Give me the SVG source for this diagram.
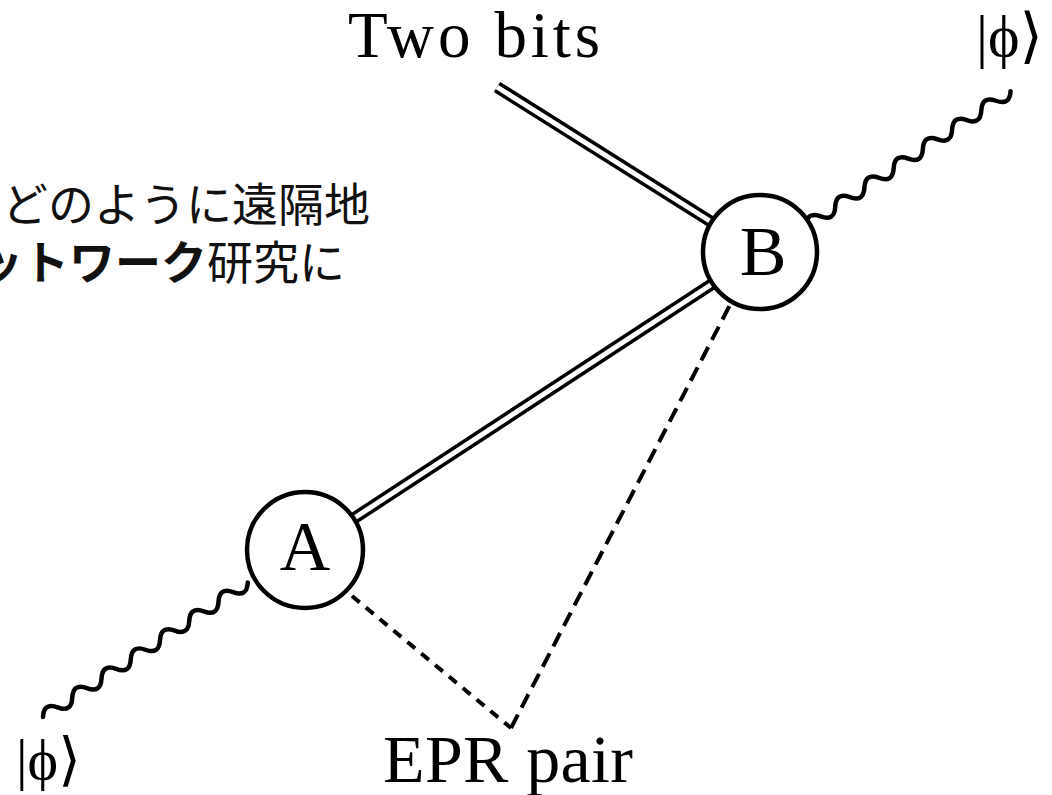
<svg xmlns="http://www.w3.org/2000/svg" width="1052" height="795" viewBox="0 0 1052 795">
<style>
.serif{font-family:"Liberation Serif","DejaVu Serif",serif;fill:#000}
.jp{font-family:"Noto Sans CJK JP","Noto Sans CJK SC",sans-serif;fill:#111;font-size:46px}
.rail-o{stroke:#000;stroke-width:12;fill:none}
.rail-i{stroke:#fff;stroke-width:5;fill:none}
.wave{stroke:#000;stroke-width:4.5;fill:none;stroke-linecap:round}
.node{fill:#fff;stroke:#000;stroke-width:4.5}
.dash{stroke:#000;stroke-width:4;fill:none}
</style>
<rect width="1052" height="795" fill="#fff"/>
<g id="caption">
<text class="jp" x="2" y="221">どのように遠隔地</text>
<text class="jp" x="-23" y="279"><tspan font-weight="700">ットワーク</tspan>研究に</text>
</g>
<g id="connectors">
<line class="rail-o" x1="330" y1="534" x2="735" y2="269"/>
<line class="rail-i" x1="330" y1="534" x2="735" y2="269"/>
<line class="rail-o" x1="497" y1="87" x2="740" y2="240"/>
<line class="rail-i" x1="497" y1="87" x2="740" y2="240"/>
<path class="wave" transform="translate(806,226) rotate(-33.4)" d="M0,0 q8.75,-12 17.5,0 t17.5,0 t17.5,0 t17.5,0 t17.5,0 t17.5,0 t17.5,0 t17.5,0 t17.5,0 t17.5,0 t17.5,0 t17.5,0 t17.5,0 t17.5,0"/>
<path class="wave" transform="translate(43,717) rotate(-33.3)" d="M0,0 q8.75,-12 17.5,0 t17.5,0 t17.5,0 t17.5,0 t17.5,0 t17.5,0 t17.5,0 t17.5,0 t17.5,0 t17.5,0 t17.5,0 t17.5,0 t17.5,0 t17.5,0"/>
<line class="dash" x1="352" y1="596" x2="511" y2="728" stroke-dasharray="10 8"/>
<line class="dash" x1="511" y1="728" x2="731" y2="303" stroke-dasharray="15 8"/>
</g>
<g id="node-B">
<circle class="node" cx="760" cy="252" r="57"/>
<text class="serif" x="763" y="275" font-size="70" text-anchor="middle">B</text>
</g>
<g id="node-A">
<circle class="node" cx="305" cy="550" r="58"/>
<text class="serif" x="305" y="570" font-size="70" text-anchor="middle">A</text>
</g>
<g id="labels">
<text class="serif" x="348" y="57" font-size="65" textLength="252">Two bits</text>
<text class="serif" x="383" y="782" font-size="68" textLength="250">EPR pair</text>
<text class="serif" x="976" y="56" font-size="60">|ϕ⟩</text>
<text class="serif" x="16" y="779" font-size="58">|ϕ⟩</text>
</g>
</svg>
